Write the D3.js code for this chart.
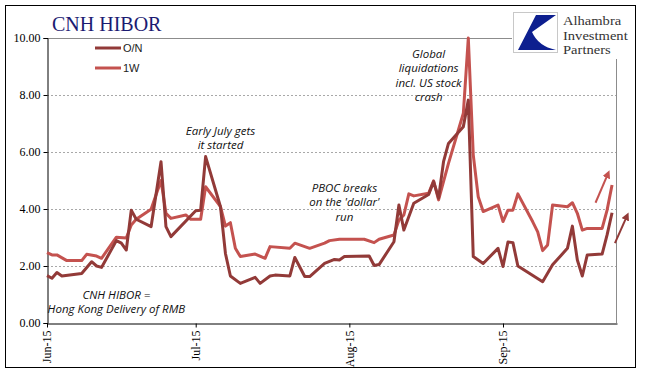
<!DOCTYPE html>
<html><head><meta charset="utf-8">
<script src="https://cdn.jsdelivr.net/npm/d3@7/dist/d3.min.js"></script>
<style>
html,body{margin:0;padding:0;background:#fff;}
svg{display:block;}
</style>
</head><body>
<svg id="c" width="645" height="379"></svg>
<script>
// ---- data ----
const seriesNames = ["O/N", "1W"];
const onDates = ["2015-06-01","2015-06-02","2015-06-03","2015-06-04","2015-06-08","2015-06-10","2015-06-11","2015-06-12",
  "2015-06-15","2015-06-16","2015-06-17","2015-06-18","2015-06-19","2015-06-22","2015-06-24","2015-06-25","2015-06-26",
  "2015-07-01","2015-07-02","2015-07-03","2015-07-06","2015-07-07","2015-07-08","2015-07-10","2015-07-13","2015-07-14",
  "2015-07-16","2015-07-17","2015-07-20","2015-07-21","2015-07-23","2015-07-24","2015-07-27","2015-07-29","2015-07-30",
  "2015-07-31","2015-08-05","2015-08-06","2015-08-07","2015-08-10","2015-08-11","2015-08-12","2015-08-14","2015-08-17",
  "2015-08-18","2015-08-19","2015-08-20","2015-08-21","2015-08-24","2015-08-25","2015-08-26","2015-08-28","2015-08-31",
  "2015-09-01","2015-09-02","2015-09-03","2015-09-04","2015-09-09","2015-09-11","2015-09-14","2015-09-15","2015-09-16",
  "2015-09-17","2015-09-18","2015-09-21","2015-09-22","2015-09-23"];
const onValues = [1.66,1.57,1.77,1.65,1.74,2.15,2.00,1.95,
  2.89,2.80,2.56,3.96,3.64,3.38,5.66,3.38,3.03,
  3.94,3.96,5.84,4.08,2.44,1.65,1.39,1.60,1.39,
  1.65,1.68,1.65,2.30,1.63,1.63,2.09,2.23,2.21,
  2.33,2.35,2.02,2.05,2.85,4.14,3.26,4.20,4.51,
  4.96,4.38,5.66,6.30,6.89,7.82,2.33,2.09,2.62,
  1.98,2.84,2.82,2.00,1.45,2.04,2.62,3.40,2.21,
  1.65,2.39,2.42,3.09,3.87];
const wDates = ["2015-06-01","2015-06-02","2015-06-03","2015-06-05","2015-06-08","2015-06-09","2015-06-11","2015-06-12",
  "2015-06-15","2015-06-17","2015-06-18","2015-06-19","2015-06-22","2015-06-24","2015-06-25","2015-06-26","2015-06-29",
  "2015-06-30","2015-07-02","2015-07-03","2015-07-06","2015-07-07","2015-07-08","2015-07-09","2015-07-10","2015-07-13",
  "2015-07-15","2015-07-16","2015-07-20","2015-07-21","2015-07-24","2015-07-27","2015-07-28","2015-07-30","2015-08-04",
  "2015-08-06","2015-08-07","2015-08-10","2015-08-11","2015-08-12","2015-08-13","2015-08-14","2015-08-17","2015-08-18",
  "2015-08-19","2015-08-21","2015-08-24","2015-08-25","2015-08-26","2015-08-27","2015-08-28","2015-08-31","2015-09-01",
  "2015-09-02","2015-09-03","2015-09-04","2015-09-07","2015-09-08","2015-09-09","2015-09-10","2015-09-11","2015-09-14",
  "2015-09-15","2015-09-16","2015-09-17","2015-09-18","2015-09-21","2015-09-22","2015-09-23"];
const wValues = [2.47,2.39,2.39,2.19,2.19,2.41,2.35,2.27,
  3.01,2.98,3.44,3.64,3.99,5.00,3.85,3.67,3.79,
  3.64,3.64,4.78,4.08,3.40,3.52,2.62,2.33,2.42,
  2.27,2.68,2.62,2.80,2.62,2.80,2.89,2.94,2.94,
  2.82,2.94,3.09,3.61,3.79,4.53,4.46,4.55,4.99,
  4.32,5.60,7.36,10.0,5.90,4.43,3.91,4.14,3.56,
  3.96,3.96,4.53,3.55,3.20,2.54,2.74,4.14,4.08,
  4.22,3.85,3.26,3.32,3.32,3.96,4.84];
const yTicks = [0, 2, 4, 6, 8, 10];
const xTickDates = ["2015-06-01","2015-07-01","2015-08-01","2015-09-01"];
const xDomain = ["2015-06-01","2015-09-24"];
const annotations = [
  {lines:["Early July gets","it started"], date:"2015-07-06", value:6.6},
  {lines:["CNH HIBOR =","Hong Kong Delivery of RMB"], date:"2015-06-15", value:0.85},
  {lines:["PBOC breaks","on the 'dollar'","run"], date:"2015-07-31", value:4.6},
  {lines:["Global","liquidations","incl. US stock","crash"], date:"2015-08-17", value:9.3}
];
const arrows = [
  {series:1, from:["2015-09-19T16:00", 4.22], to:["2015-09-22T04:00", 5.23]},
  {series:0, from:["2015-09-23T14:00", 2.80], to:["2015-09-26T00:00", 3.75]}
];
const logoLines = ["Alhambra", "Investment", "Partners"];

// ---- drawing ----
const parse = d3.timeParse("%Y-%m-%d");
const parseT = s => s.length > 10 ? d3.timeParse("%Y-%m-%dT%H:%M")(s) : parse(s);
const colors = ["#923a38", "#c4524f"];
const svg = d3.select("#c");
const L = 47, R = 617, T = 38, B = 323;
const x = d3.scaleTime().domain(xDomain.map(parse)).range([L, R]);
const y = d3.scaleLinear().domain([0, 10]).range([B, T]);
const serif = "'Liberation Serif','Times New Roman',serif";
const sans = "'Liberation Sans',Arial,sans-serif";
const ital = "'Open Sans','Liberation Sans',sans-serif";

// outer frame
svg.append("rect").attr("x", 5.5).attr("y", 5.5).attr("width", 630).attr("height", 362)
  .attr("fill", "none").attr("stroke", "#000").attr("stroke-width", 1);

// gridlines
svg.append("g").selectAll("line").data(yTicks.filter(v => v > 0 && v < 10)).join("line")
  .attr("x1", L).attr("x2", R - 1).attr("y1", d => Math.round(y(d)) + 0.5).attr("y2", d => Math.round(y(d)) + 0.5)
  .attr("stroke", "#a8a8a8").attr("stroke-width", 1).attr("stroke-dasharray", "2,2");
// plot area border (top & right)
svg.append("line").attr("x1", L).attr("x2", 512).attr("y1", y(10) + 0.5).attr("y2", y(10) + 0.5)
  .attr("stroke", "#8c8c8c");
svg.append("line").attr("x1", R - 0.5).attr("x2", R - 0.5).attr("y1", 59).attr("y2", B)
  .attr("stroke", "#8c8c8c");

// axes
const yAxis = d3.axisLeft(y).tickValues(yTicks).tickFormat(d3.format(".2f")).tickSize(4).tickPadding(3);
const gy = svg.append("g").attr("transform", `translate(${L + 0.5},0)`).call(yAxis);
gy.selectAll("text").attr("font-family", serif).attr("font-size", 12).attr("fill", "#000");
gy.selectAll("line,path").attr("stroke", "#000");

const xAxis = d3.axisBottom(x).tickValues(xTickDates.map(parse)).tickFormat(d3.timeFormat("%b-%y")).tickSize(4).tickSizeOuter(0);
const gx = svg.append("g").attr("transform", `translate(0,${B + 0.5})`).call(xAxis);
gx.selectAll("line,path").attr("stroke", "#000");
gx.selectAll("text").attr("font-family", serif).attr("font-size", 12).attr("fill", "#000")
  .attr("transform", "rotate(-90)").attr("text-anchor", "end").attr("dy", "0.33em").attr("x", -7).attr("y", 0);

// lines
const line = d3.line().x(d => x(d[0])).y(d => y(d[1])).curve(d3.curveLinear);
const seriesData = [
  onDates.map((d, i) => [parse(d), onValues[i]]),
  wDates.map((d, i) => [parse(d), wValues[i]])
];
[1, 0].forEach(k => {
  svg.append("path").datum(seriesData[k]).attr("d", line).attr("fill", "none")
    .attr("stroke", colors[k]).attr("stroke-width", 3).attr("stroke-linejoin", "round");
});

// title
svg.append("text").attr("x", 52).attr("y", 31).text("CNH HIBOR")
  .attr("font-family", serif).attr("font-size", 20).attr("fill", "#1b1b72");

// legend
seriesNames.forEach((n, i) => {
  const yy = 48 + i * 20;
  svg.append("line").attr("x1", 95).attr("x2", 121).attr("y1", yy).attr("y2", yy)
    .attr("stroke", colors[i]).attr("stroke-width", 3);
  svg.append("text").attr("x", 123).attr("y", yy + 4).text(n)
    .attr("font-family", sans).attr("font-size", 11).attr("fill", "#222");
});

// annotations
annotations.forEach(a => {
  const t = svg.append("text").attr("font-family", ital).attr("font-style", "italic")
    .attr("font-size", 11.5).attr("fill", "#111").attr("text-anchor", "middle");
  a.lines.forEach((s, i) => {
    t.append("tspan").attr("x", x(parse(a.date))).attr("y", y(a.value) + i * 14.5).text(s);
  });
});

// arrows
const defs = svg.append("defs");
arrows.forEach((a, i) => {
  defs.append("marker").attr("id", "ah" + i).attr("viewBox", "0 0 10 10").attr("refX", 5).attr("refY", 5)
    .attr("markerWidth", 4).attr("markerHeight", 4).attr("orient", "auto")
    .append("path").attr("d", "M0,0 L10,5 L0,10 Z").attr("fill", colors[a.series]);
  svg.append("line")
    .attr("x1", x(parseT(a.from[0]))).attr("y1", y(a.from[1]))
    .attr("x2", x(parseT(a.to[0]))).attr("y2", y(a.to[1]))
    .attr("stroke", colors[a.series]).attr("stroke-width", 2).attr("marker-end", `url(#ah${i})`);
});

// logo
const lg = svg.append("g");
lg.append("rect").attr("x", 513.5).attr("y", 12.5).attr("width", 44).attr("height", 40)
  .attr("fill", "#fff").attr("stroke", "#c8c8c8");
lg.append("path").attr("d", "M536,15 L556,15 L532,32 Q538,46 556,50 L518,50 Z").attr("fill", "#0d1f8f");
logoLines.forEach((s, i) => {
  lg.append("text").attr("transform", `translate(563,${25 + i * 14.5}) scale(1.12,1)`).text(s)
    .attr("font-family", serif).attr("font-size", 13).attr("fill", "#333");
});
</script>
</body></html>
